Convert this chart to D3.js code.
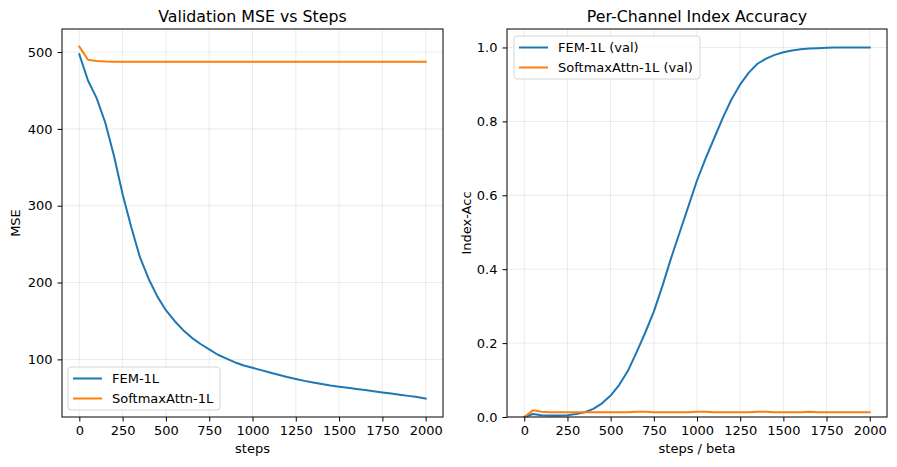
<!DOCTYPE html>
<html>
<head>
<meta charset="utf-8">
<script src="https://cdn.jsdelivr.net/npm/d3@7"></script>
<style>
  body { margin: 0; background: #fff; }
  text { font-family: "DejaVu Sans", sans-serif; fill: #000; }
</style>
</head>
<body>
<div id="chart"></div>
<script>
const STEPS = d3.range(0, 2001, 50);

const FEM_MSE = [497, 463, 440, 408, 365, 315, 272, 233, 205, 182, 164, 150, 138, 128, 120, 113,
  106, 101, 96, 92, 89, 86, 83, 80, 77, 74.5, 72, 70, 68, 66, 64.5, 63, 61.5, 60, 58.5, 57,
  55.5, 54, 52.5, 51, 49];
const SOFTMAX_MSE = [507, 490, 488.5, 487.8, 487.5, 487.5, 487.5, 487.5, 487.5, 487.5, 487.5,
  487.5, 487.5, 487.5, 487.5, 487.5, 487.5, 487.5, 487.5, 487.5, 487.5, 487.5, 487.5, 487.5,
  487.5, 487.5, 487.5, 487.5, 487.5, 487.5, 487.5, 487.5, 487.5, 487.5, 487.5, 487.5, 487.5,
  487.5, 487.5, 487.5, 487.5];

const FEM_ACC = [0, 0.008, 0.005, 0.004, 0.004, 0.005, 0.008, 0.013, 0.022, 0.037, 0.058, 0.087,
  0.125, 0.175, 0.228, 0.285, 0.355, 0.43, 0.5, 0.57, 0.64, 0.7, 0.755, 0.81, 0.86, 0.9, 0.932,
  0.956, 0.97, 0.98, 0.987, 0.992, 0.995, 0.997, 0.998, 0.999, 1.0, 1.0, 1.0, 1.0, 1.0];
const SOFTMAX_ACC = [0, 0.018, 0.014, 0.013, 0.013, 0.013, 0.013, 0.013, 0.013, 0.013, 0.013,
  0.013, 0.013, 0.014, 0.014, 0.013, 0.013, 0.013, 0.013, 0.013, 0.014, 0.014, 0.013, 0.013,
  0.013, 0.013, 0.013, 0.014, 0.014, 0.013, 0.013, 0.013, 0.013, 0.014, 0.013, 0.013, 0.013,
  0.013, 0.013, 0.013, 0.013];

const X_TICKS = [0, 250, 500, 750, 1000, 1250, 1500, 1750, 2000];
const MSE_TICKS = [100, 200, 300, 400, 500];
const ACC_TICKS = [0, 0.2, 0.4, 0.6, 0.8, 1.0];

const BLUE = '#1f77b4';
const ORANGE = '#ff7f0e';
const FS = '13px';

const W = 897, H = 467;
const svg = d3.select('#chart').append('svg').attr('width', W).attr('height', H);

function panel(opts) {
  const { left, right, top, bottom, yDomain, yTicks, yFmt, title, xLabel, yLabel, yLabelOff, series, legend } = opts;
  const x = d3.scaleLinear().domain([-100, 2100]).range([left, right]);
  const y = d3.scaleLinear().domain(yDomain).range([bottom, top]);
  const g = svg.append('g');

  // grid
  g.append('g').selectAll('line').data(X_TICKS).enter().append('line')
    .attr('x1', d => x(d)).attr('x2', d => x(d)).attr('y1', top).attr('y2', bottom)
    .attr('stroke', '#b0b0b0').attr('stroke-opacity', 0.3).attr('stroke-width', 0.8);
  g.append('g').selectAll('line').data(yTicks).enter().append('line')
    .attr('x1', left).attr('x2', right).attr('y1', d => y(d)).attr('y2', d => y(d))
    .attr('stroke', '#b0b0b0').attr('stroke-opacity', 0.3).attr('stroke-width', 0.8);

  const line = d3.line().x((d, i) => x(STEPS[i])).y(d => y(d));
  const clip = 'clip' + left;
  svg.append('clipPath').attr('id', clip).append('rect')
    .attr('x', left).attr('y', top).attr('width', right - left).attr('height', bottom - top);
  series.forEach(s => {
    g.append('path').datum(s.values).attr('d', line)
      .attr('clip-path', `url(#${clip})`)
      .attr('fill', 'none').attr('stroke', s.color).attr('stroke-width', 2)
      .attr('stroke-linejoin', 'round').attr('stroke-linecap', 'square');
  });

  // axes
  g.append('g').attr('transform', `translate(0,${bottom})`)
    .call(d3.axisBottom(x).tickValues(X_TICKS).tickSize(4.5).tickPadding(4).tickFormat(d3.format('d')))
    .call(a => a.select('.domain').remove())
    .call(a => a.selectAll('text').style('font-size', FS).attr('font-family', 'DejaVu Sans'));
  g.append('g').attr('transform', `translate(${left},0)`)
    .call(d3.axisLeft(y).tickValues(yTicks).tickSize(4.5).tickPadding(5).tickFormat(yFmt))
    .call(a => a.select('.domain').remove())
    .call(a => a.selectAll('text').style('font-size', FS).attr('font-family', 'DejaVu Sans'));
  g.selectAll('.tick line').attr('stroke', '#000').attr('stroke-width', 1);

  g.append('rect').attr('x', left).attr('y', top).attr('width', right - left).attr('height', bottom - top)
    .attr('fill', 'none').attr('stroke', '#000').attr('stroke-width', 1);

  g.append('text').attr('x', (left + right) / 2).attr('y', top - 7.5).attr('text-anchor', 'middle')
    .style('font-size', '15.8px').text(title);
  g.append('text').attr('x', (left + right) / 2).attr('y', bottom + 36).attr('text-anchor', 'middle')
    .style('font-size', FS).text(xLabel);
  g.append('text').attr('transform', `translate(${left - yLabelOff},${(top + bottom) / 2}) rotate(-90)`)
    .attr('text-anchor', 'middle').style('font-size', FS).text(yLabel);

  // legend
  const lg = g.append('g').attr('transform', `translate(${legend.x},${legend.y})`);
  lg.append('rect').attr('width', legend.w).attr('height', 43).attr('rx', 3)
    .attr('fill', '#fff').attr('fill-opacity', 0.8).attr('stroke', '#d5d5d5');
  series.forEach((s, i) => {
    const yy = 11.5 + i * 20;
    lg.append('line').attr('x1', 5).attr('x2', 34).attr('y1', yy).attr('y2', yy)
      .attr('stroke', s.color).attr('stroke-width', 2);
    lg.append('text').attr('x', 44).attr('y', yy + 4.7).style('font-size', FS).text(s.name);
  });
}

panel({
  left: 62, right: 443, top: 29, bottom: 417,
  yDomain: [25, 530], yTicks: MSE_TICKS, yFmt: d3.format('d'),
  title: 'Validation MSE vs Steps', xLabel: 'steps', yLabel: 'MSE', yLabelOff: 42.5,
  series: [
    { name: 'FEM-1L', values: FEM_MSE, color: BLUE },
    { name: 'SoftmaxAttn-1L', values: SOFTMAX_MSE, color: ORANGE },
  ],
  legend: { x: 68, y: 367, w: 152 },
});

panel({
  left: 507, right: 887, top: 29, bottom: 417,
  yDomain: [0, 1.05], yTicks: ACC_TICKS, yFmt: d3.format('.1f'),
  title: 'Per-Channel Index Accuracy', xLabel: 'steps / beta', yLabel: 'Index-Acc', yLabelOff: 36.5,
  series: [
    { name: 'FEM-1L (val)', values: FEM_ACC, color: BLUE },
    { name: 'SoftmaxAttn-1L (val)', values: SOFTMAX_ACC, color: ORANGE },
  ],
  legend: { x: 514, y: 36, w: 186 },
});
</script>
</body>
</html>
